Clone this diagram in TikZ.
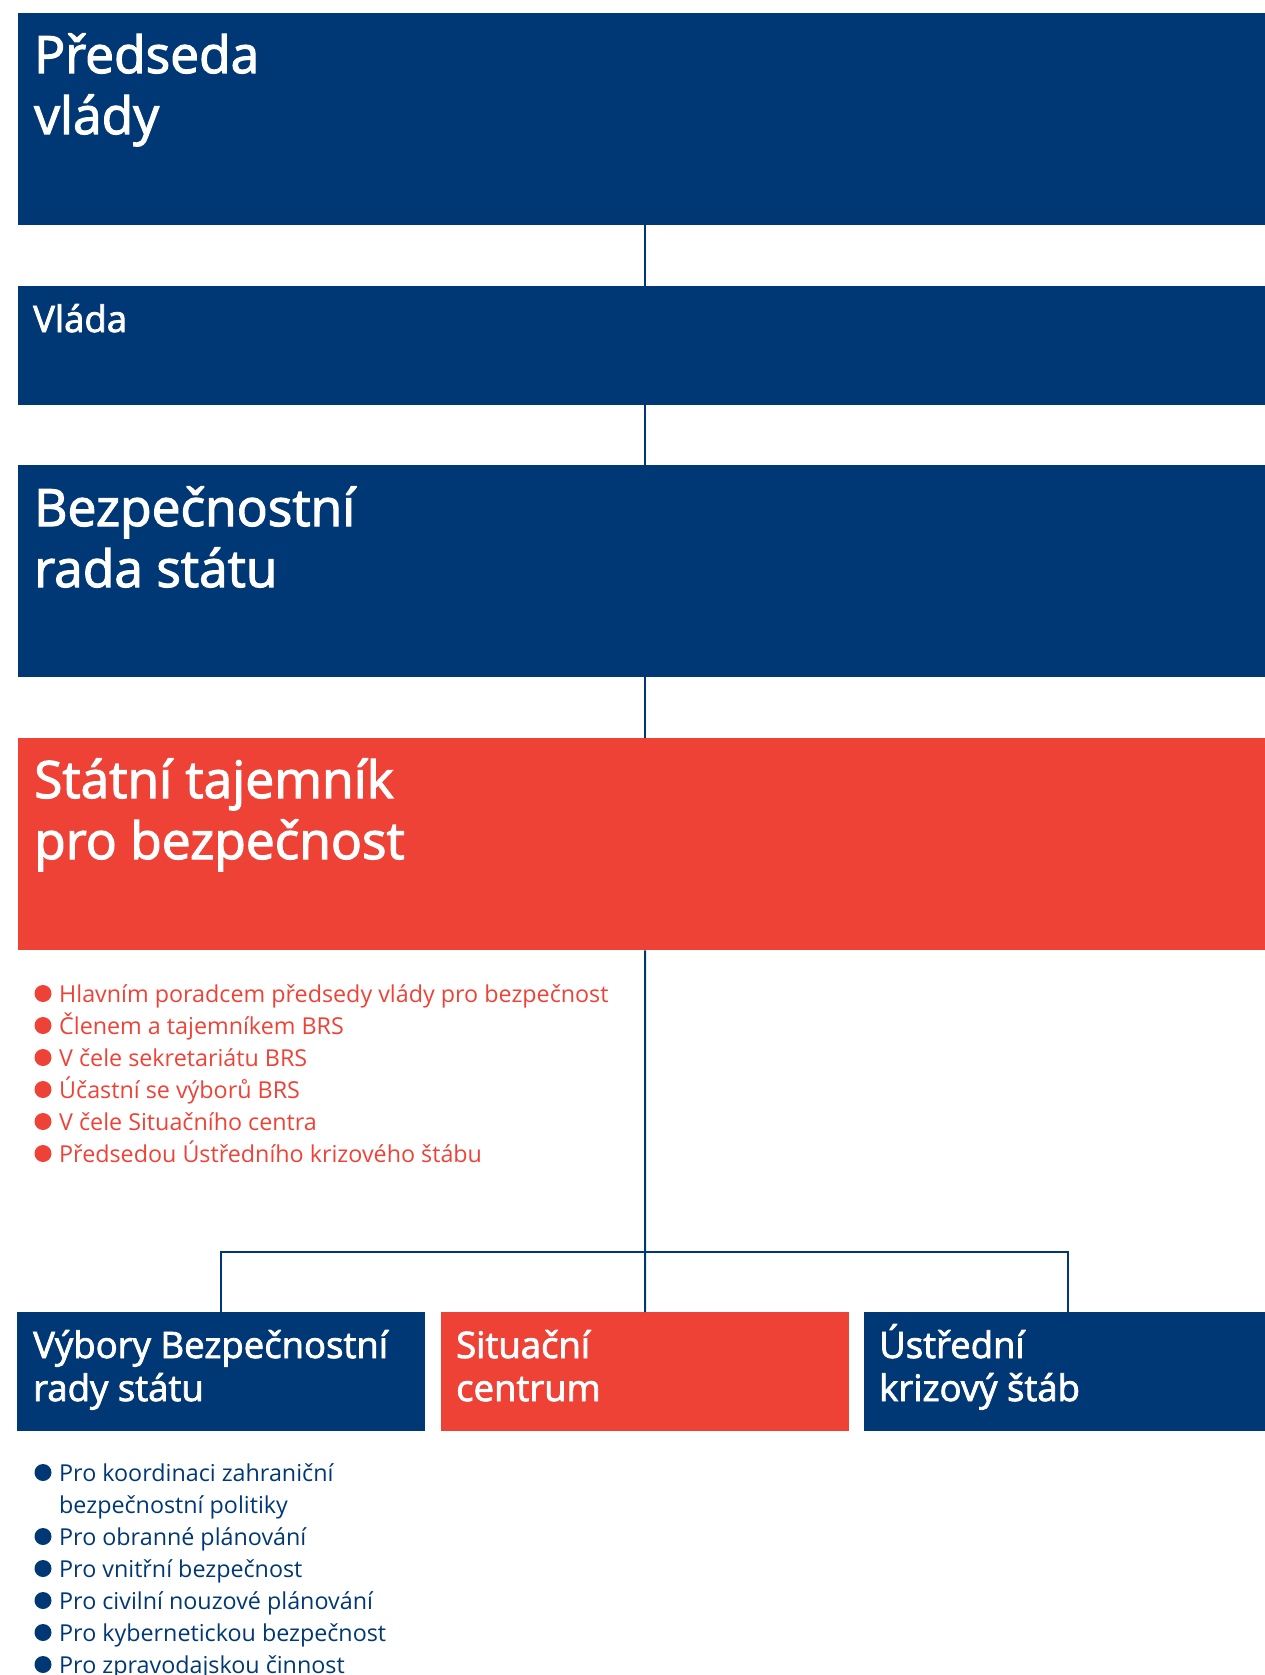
\documentclass[tikz,border=0pt]{standalone}
\usepackage{fontspec}
\setmainfont{Open Sans}
\newfontfamily\headfont{Open Sans}[FakeBold=2.2]
\definecolor{navy}{HTML}{003876}
\definecolor{alarm}{HTML}{EF4236}
\tikzset{
	wide/.style={anchor=north west, inner sep=0pt, minimum width=1257pt, minimum height=#1},
	small/.style={anchor=north west, inner sep=0pt, minimum width=408pt, minimum height=119pt},
	head/.style={anchor=base west, inner sep=0pt, text=white, align=left, font=\headfont\fontsize{51.5}{61}\selectfont},
	subhead/.style={anchor=base west, inner sep=0pt, text=white, align=left, font=\headfont\fontsize{36.5}{43}\selectfont},
	item/.style={anchor=base west, inner sep=0pt, align=left, font=\fontsize{23.3}{32}\selectfont},
	link/.style={navy, line width=2pt}
}
\begin{document}
\begin{tikzpicture}[x=1pt,y=-1pt]
	\useasboundingbox (0,0) rectangle (1265,1675);
	\coordinate (spine) at (645,0);
	\coordinate (bar) at (645,1252);

	% main chain
	\node[wide=212pt, fill=navy] (pv) at (18,13) {};
	\node[wide=119pt, fill=navy] (vl) at (18,286) {};
	\node[wide=212pt, fill=navy] (brs) at (18,465) {};
	\node[wide=212pt, fill=alarm] (st) at (18,738) {};
	% (base = last line)
	\node[head] (pvt) at (34,134) {Předseda\\vlády};
	\node[subhead] (vlt) at (33,332) {Vláda};
	\node[head] (brst) at (34,587) {Bezpečnostní\\rada státu};
	\node[head] (stt) at (34,859) {Státní tajemník\\pro bezpečnost};

	% bottom row
	\node[small, fill=navy] (vb) at (17,1312) {};
	\node[small, fill=alarm] (sc) at (441,1312) {};
	\node[small, fill=navy] (uks) at (864,1312) {};
	\node[subhead] (vbt) at (33,1401) {Výbory Bezpečnostní\\rady státu};
	\node[subhead] (sct) at (456,1401) {Situační\\centrum};
	\node[subhead] (ukst) at (879,1401) {Ústřední\\krizový štáb};

	% connectors
	\draw[link] (pv.south -| spine) -- (vl.north -| spine);
	\draw[link] (vl.south -| spine) -- (brs.north -| spine);
	\draw[link] (brs.south -| spine) -- (st.north -| spine);
	\draw[link] (st.south -| spine) -- (sc.north);
	\draw[link] (vb.north) |- (bar) -| (uks.north);

	% duties of the secretary
	\node[item, text=alarm] (r1) at (59,1002) {Hlavním poradcem předsedy vlády pro bezpečnost};
	\node[item, text=alarm] (r2) at (59,1034) {Členem a tajemníkem BRS};
	\node[item, text=alarm] (r3) at (59,1066) {V čele sekretariátu BRS};
	\node[item, text=alarm] (r4) at (59,1098) {Účastní se výborů BRS};
	\node[item, text=alarm] (r5) at (59,1130) {V čele Situačního centra};
	\node[item, text=alarm] (r6) at (59,1162) {Předsedou Ústředního krizového štábu};
	\fill[alarm] ([xshift=-16pt,yshift=8.5pt]r1.base west) circle (8.5pt);
	\fill[alarm] ([xshift=-16pt,yshift=8.5pt]r2.base west) circle (8.5pt);
	\fill[alarm] ([xshift=-16pt,yshift=8.5pt]r3.base west) circle (8.5pt);
	\fill[alarm] ([xshift=-16pt,yshift=8.5pt]r4.base west) circle (8.5pt);
	\fill[alarm] ([xshift=-16pt,yshift=8.5pt]r5.base west) circle (8.5pt);
	\fill[alarm] ([xshift=-16pt,yshift=8.5pt]r6.base west) circle (8.5pt);

	% committees
	\node[item, text=navy] (b1) at (59,1513) {Pro koordinaci zahraniční\\bezpečnostní politiky};
	\node[item, text=navy] (b2) at (59,1545) {Pro obranné plánování};
	\node[item, text=navy] (b3) at (59,1577) {Pro vnitřní bezpečnost};
	\node[item, text=navy] (b4) at (59,1609) {Pro civilní nouzové plánování};
	\node[item, text=navy] (b5) at (59,1641) {Pro kybernetickou bezpečnost};
	\node[item, text=navy] (b6) at (59,1673) {Pro zpravodajskou činnost};
	\fill[navy] ([xshift=-16pt,yshift=40.5pt]b1.base west) circle (8.5pt);
	\fill[navy] ([xshift=-16pt,yshift=8.5pt]b2.base west) circle (8.5pt);
	\fill[navy] ([xshift=-16pt,yshift=8.5pt]b3.base west) circle (8.5pt);
	\fill[navy] ([xshift=-16pt,yshift=8.5pt]b4.base west) circle (8.5pt);
	\fill[navy] ([xshift=-16pt,yshift=8.5pt]b5.base west) circle (8.5pt);
	\fill[navy] ([xshift=-16pt,yshift=8.5pt]b6.base west) circle (8.5pt);
\end{tikzpicture}
\end{document}
